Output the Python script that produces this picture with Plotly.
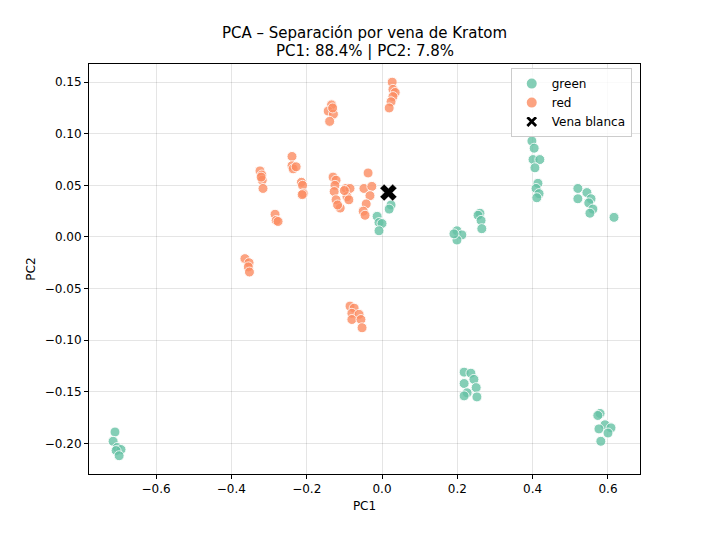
import plotly.graph_objects as go

# Green vein samples
green_pc1 = [0.024, 0.019, -0.013, -0.008, 0.000, -0.008,
             0.199, 0.212, 0.199, 0.191,
             0.260, 0.255, 0.263, 0.265,
             0.398, 0.404, 0.401, 0.419, 0.406, 0.414, 0.409, 0.417, 0.411,
             0.520, 0.520, 0.544, 0.555, 0.549, 0.560, 0.552, 0.616,
             -0.709, -0.714, -0.703, -0.693, -0.706, -0.698,
             0.218, 0.236, 0.244, 0.218, 0.250, 0.226, 0.218, 0.252,
             0.579, 0.573, 0.592, 0.608, 0.576, 0.600, 0.581]
green_pc2 = [0.031, 0.027, 0.020, 0.014, 0.013, 0.006,
             0.006, 0.002, -0.003, 0.003,
             0.023, 0.021, 0.016, 0.008,
             0.093, 0.086, 0.075, 0.075, 0.067, 0.052, 0.047, 0.042, 0.038,
             0.047, 0.037, 0.043, 0.037, 0.033, 0.027, 0.023, 0.019,
             -0.189, -0.198, -0.204, -0.206, -0.207, -0.212,
             -0.131, -0.132, -0.138, -0.142, -0.146, -0.151, -0.154, -0.155,
             -0.171, -0.173, -0.182, -0.185, -0.186, -0.190, -0.198]

# Red vein samples
red_pc1 = [-0.134, -0.143, -0.129, -0.139, -0.131,
           -0.239, -0.239, -0.236, -0.228,
           -0.214, -0.211, -0.209, -0.212,
           -0.324, -0.319, -0.318, -0.316, -0.321,
           -0.284, -0.281, -0.276,
           -0.364, -0.353, -0.355, -0.352,
           -0.130, -0.122, -0.125, -0.127, -0.096, -0.085, -0.093, -0.088, -0.122, -0.111, -0.118, -0.100,
           -0.037, -0.048, -0.027, -0.032, -0.042, -0.050, -0.045,
           0.027, 0.029, 0.035, 0.029, 0.024, 0.019,
           -0.085, -0.074, -0.080, -0.061, -0.080, -0.056, -0.053]
red_pc2 = [0.128, 0.122, 0.119, 0.112, 0.125,
           0.078, 0.069, 0.066, 0.068,
           0.053, 0.050, 0.042, 0.041,
           0.064, 0.060, 0.055, 0.047, 0.058,
           0.022, 0.016, 0.015,
           -0.021, -0.025, -0.029, -0.034,
           0.058, 0.055, 0.050, 0.044, 0.047, 0.047, 0.039, 0.036, 0.036, 0.028, 0.031, 0.045,
           0.062, 0.047, 0.049, 0.040, 0.032, 0.025, 0.021,
           0.150, 0.143, 0.140, 0.136, 0.131, 0.125,
           -0.067, -0.069, -0.074, -0.075, -0.080, -0.080, -0.088]

# White vein sample
white_pc1 = [0.017]
white_pc2 = [0.043]

x_ticks = [-0.6, -0.4, -0.2, 0.0, 0.2, 0.4, 0.6]
y_ticks = [-0.20, -0.15, -0.10, -0.05, 0.00, 0.05, 0.10, 0.15]

title_lines = ["PCA – Separación por vena de Kratom", "PC1: 88.4% | PC2: 7.8%"]

FONT = "DejaVu Sans"
PLOT_TOP, PLOT_H = 64, 410

fig = go.Figure()
fig.add_trace(go.Scatter(
    x=green_pc1, y=green_pc2, mode="markers", name="green",
    marker=dict(size=10, color="#66c2a5", opacity=0.8,
                line=dict(color="white", width=1))))
fig.add_trace(go.Scatter(
    x=red_pc1, y=red_pc2, mode="markers", name="red",
    marker=dict(size=10, color="#fc8d62", opacity=0.8,
                line=dict(color="white", width=1))))
fig.add_trace(go.Scatter(
    x=white_pc1, y=white_pc2, mode="markers", name="Vena blanca",
    marker=dict(size=15, color="black", symbol="x",
                line=dict(color="white", width=0.5))))

axis_common = dict(
    showline=True, linecolor="black", linewidth=1, mirror=True,
    ticks="outside", ticklen=4, tickcolor="black",
    showgrid=True, gridcolor="rgba(0,0,0,0.1)", gridwidth=1,
    zeroline=False,
    tickfont=dict(family=FONT, size=12, color="black"),
    title_font=dict(family=FONT, size=12, color="black"),
)

for line, ypix in zip(title_lines, [33, 51]):
    fig.add_annotation(text=line, xref="paper", yref="paper", x=0.5,
                       y=1 + (PLOT_TOP - ypix) / PLOT_H,
                       xanchor="center", yanchor="middle", showarrow=False,
                       font=dict(family=FONT, size=15, color="black"))

fig.update_layout(
    width=711, height=533,
    margin=dict(l=89, r=71, t=PLOT_TOP, b=59),
    paper_bgcolor="white", plot_bgcolor="white",
    font=dict(family=FONT, color="black"),
    xaxis=dict(range=[-0.778, 0.685], tickvals=x_ticks,
               ticktext=[f"{v:.1f}".replace("-", "−") for v in x_ticks],
               title=dict(text="PC1", standoff=6), **axis_common),
    yaxis=dict(range=[-0.2297, 0.1676], tickvals=y_ticks,
               ticktext=[f"{v:.2f}".replace("-", "−") for v in y_ticks],
               title=dict(text="PC2", standoff=6), **axis_common),
    legend=dict(x=0.985, y=0.99, xanchor="right", yanchor="top",
                bgcolor="rgba(255,255,255,0.8)", bordercolor="#cccccc",
                borderwidth=1, font=dict(family=FONT, size=12, color="black"),
                tracegroupgap=0, itemsizing="constant"),
    showlegend=True,
)

fig.write_html("out.html")
